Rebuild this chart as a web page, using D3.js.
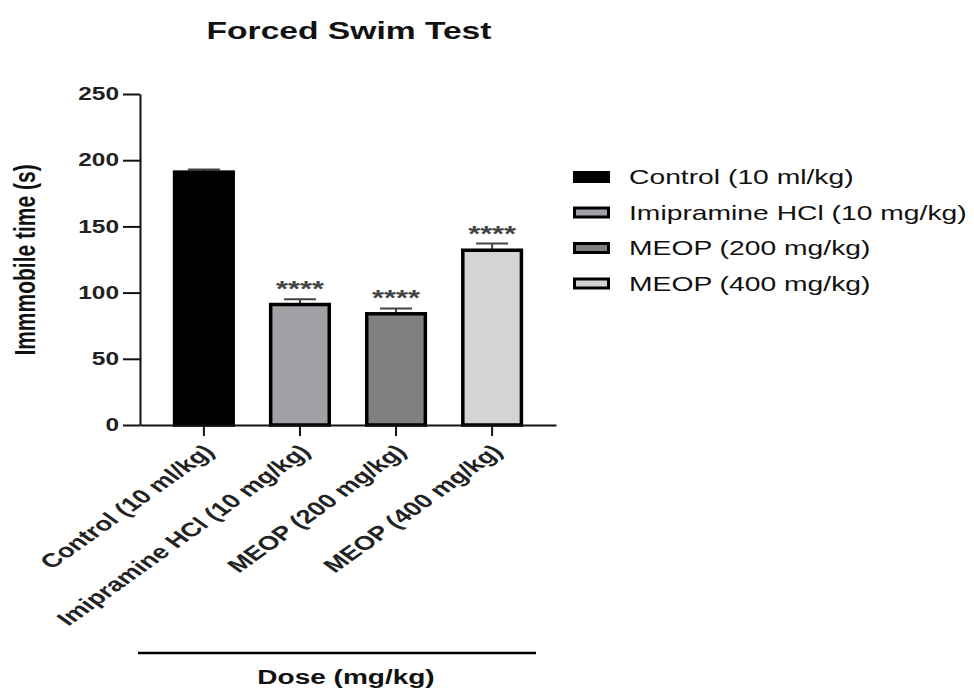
<!DOCTYPE html>
<html>
<head>
<meta charset="utf-8">
<script src="https://cdn.jsdelivr.net/npm/d3@7"></script>
<style>
  body { margin: 0; background: #fff; }
  svg text { font-family: "Liberation Sans", Arial, sans-serif; }
</style>
</head>
<body>
<div id="chart"></div>
<script>
// data
const groups = [
  "Control (10 ml/kg)",
  "Imipramine HCl (10 mg/kg)",
  "MEOP (200 mg/kg)",
  "MEOP (400 mg/kg)",
];
const means = [191, 91, 84, 132];
const sems = [2, 4, 4, 5];
const stars = ["", "****", "****", "****"];
const yTicks = [0, 50, 100, 150, 200, 250];

const data = groups.map((g, i) => ({ group: g, mean: means[i], sem: sems[i], star: stars[i] }));

// the source picture is stretched sideways, so text gets the same stretch
const sx = 1.4;

const width = 974,
  height = 689;

const svg = d3
  .select("#chart")
  .append("svg")
  .attr("width", width)
  .attr("height", height);

const x = d3
  .scaleBand()
  .domain(groups)
  .range([140, 556])
  .paddingInner(0.39)
  .paddingOuter(0.36);

const y = d3.scaleLinear().domain([0, 250]).range([425, 94]);

const color = d3
  .scaleOrdinal()
  .domain(groups)
  .range(["#000000", "#a1a1a5", "#808080", "#d4d4d4"]);

// helper: stretched text placed at (px, py)
const stretchedText = (px, py, rot, str) => {
  const g = svg
    .append("g")
    .attr("transform", `translate(${px},${py}) scale(${sx},1)` + (rot ? ` rotate(${rot})` : ""));
  return g.append("text").text(str);
};

// title
stretchedText(349, 39, 0, "Forced Swim Test")
  .attr("text-anchor", "middle")
  .attr("font-size", 24)
  .attr("font-weight", "bold")
  .attr("fill", "#111");

// error bars (drawn behind the bars)
const err = svg.append("g").attr("stroke", "#444").attr("stroke-width", 2);
err
  .selectAll("line.stem")
  .data(data)
  .join("line")
  .attr("class", "stem")
  .attr("x1", (d) => x(d.group) + x.bandwidth() / 2)
  .attr("x2", (d) => x(d.group) + x.bandwidth() / 2)
  .attr("y1", (d) => y(d.mean + d.sem))
  .attr("y2", (d) => y(d.mean));
err
  .selectAll("line.cap")
  .data(data)
  .join("line")
  .attr("class", "cap")
  .attr("x1", (d) => x(d.group) + x.bandwidth() / 2 - 16)
  .attr("x2", (d) => x(d.group) + x.bandwidth() / 2 + 16)
  .attr("y1", (d) => y(d.mean + d.sem))
  .attr("y2", (d) => y(d.mean + d.sem));

// bars
svg
  .append("g")
  .selectAll("rect")
  .data(data)
  .join("rect")
  .attr("x", (d) => x(d.group))
  .attr("y", (d) => y(d.mean))
  .attr("width", x.bandwidth())
  .attr("height", (d) => y(0) - y(d.mean))
  .attr("fill", (d) => color(d.group))
  .attr("stroke", "#000")
  .attr("stroke-width", 3.5);

// significance stars
data
  .filter((d) => d.star)
  .forEach((d) => {
    stretchedText(x(d.group) + x.bandwidth() / 2, y(d.mean + d.sem) - 3, 0, d.star)
      .attr("text-anchor", "middle")
      .attr("font-size", 22)
      .attr("font-weight", "bold")
      .attr("fill", "#444");
  });

// Y axis
const yAxis = svg
  .append("g")
  .attr("transform", "translate(140,0)")
  .call(d3.axisLeft(y).tickValues(yTicks).tickSize(17).tickSizeOuter(0).tickPadding(4));
yAxis.selectAll("path, line").attr("stroke", "#111").attr("stroke-width", 2);
yAxis
  .selectAll("text")
  .attr("x", null)
  .attr("transform", `translate(-21,0) scale(${sx},1)`)
  .attr("font-size", 17.5)
  .attr("font-weight", "bold")
  .attr("fill", "#222");

// X axis, labels drawn separately because of the stretch
const xAxis = svg
  .append("g")
  .attr("transform", `translate(0,${y(0)})`)
  .call(d3.axisBottom(x).tickSize(11).tickSizeOuter(0).tickFormat(""));
xAxis.selectAll("path, line").attr("stroke", "#111").attr("stroke-width", 2);

groups.forEach((g) => {
  stretchedText(x(g) + x.bandwidth() / 2 + 5, 448, -45, g)
    .attr("text-anchor", "end")
    .attr("dy", "0.35em")
    .attr("font-size", 19.5)
    .attr("font-weight", "bold")
    .attr("fill", "#222");
});

// y axis title
stretchedText(35, 260, -90, "Immmobile time (s)")
  .attr("text-anchor", "middle")
  .attr("font-size", 21)
  .attr("font-weight", "bold")
  .attr("fill", "#111");

// x axis title with the bar above it
svg
  .append("line")
  .attr("x1", 138)
  .attr("x2", 536)
  .attr("y1", 653)
  .attr("y2", 653)
  .attr("stroke", "#000")
  .attr("stroke-width", 2.5);
stretchedText(346, 684, 0, "Dose (mg/kg)")
  .attr("text-anchor", "middle")
  .attr("font-size", 20)
  .attr("font-weight", "bold")
  .attr("fill", "#111");

// legend
const legendY = d3.scalePoint().domain(groups).range([177, 283.5]);
groups.forEach((g) => {
  svg
    .append("rect")
    .attr("x", 574.5)
    .attr("y", legendY(g) - 4.5)
    .attr("width", 34)
    .attr("height", 9)
    .attr("fill", color(g))
    .attr("stroke", "#000")
    .attr("stroke-width", 3);
  stretchedText(629, legendY(g), 0, g)
    .attr("dy", "0.35em")
    .attr("font-size", 20.2)
    .attr("fill", "#111");
});
</script>
</body>
</html>
